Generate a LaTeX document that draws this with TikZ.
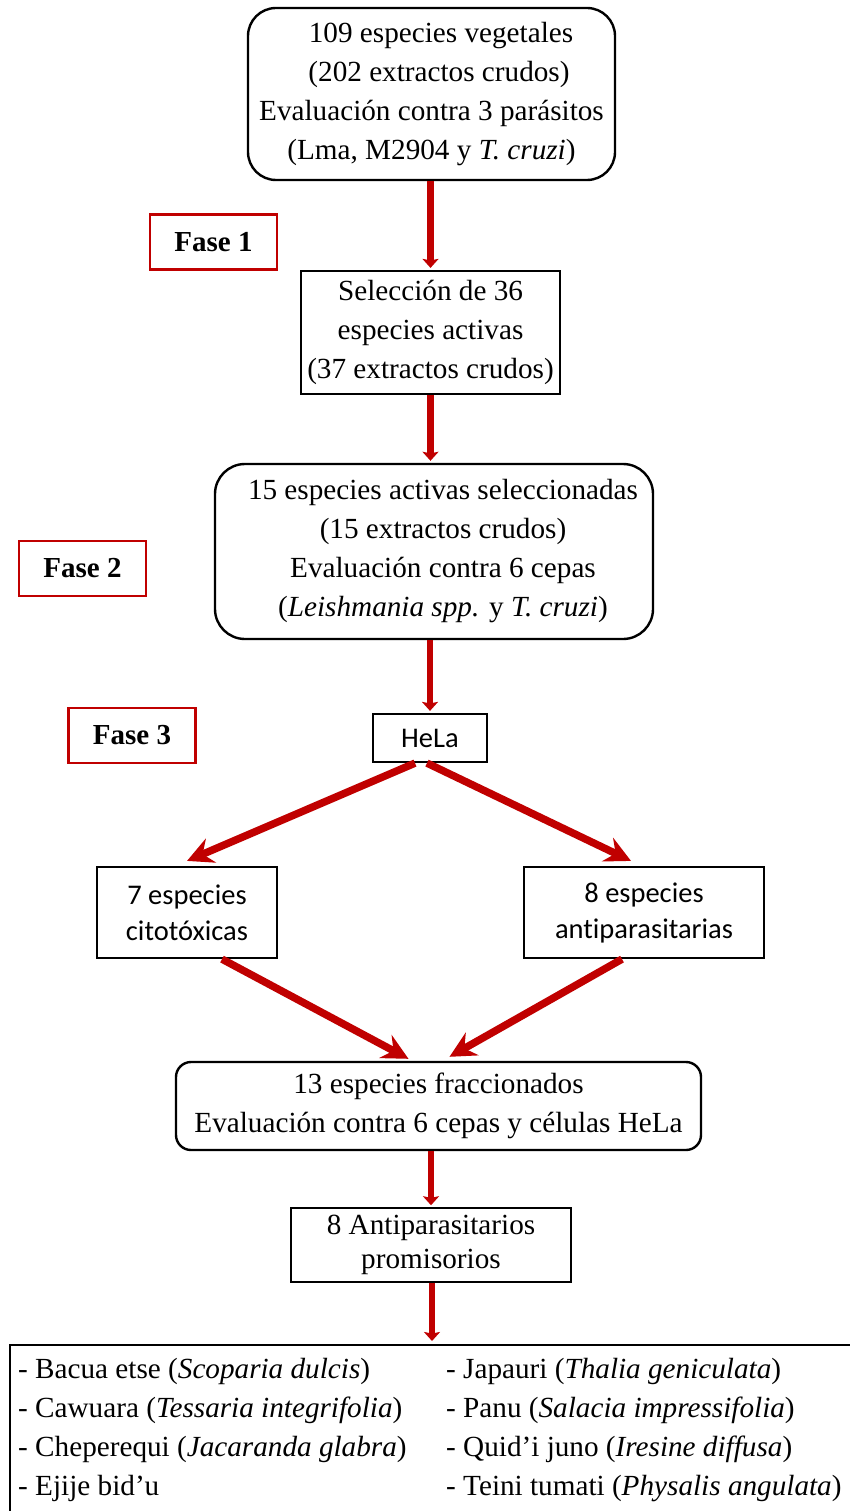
\documentclass[tikz,border=0pt]{standalone}
\usepackage{fontspec}
\setmainfont{Liberation Serif}
\newfontfamily\calibri[Ligatures=NoCommon]{Carlito}
\usetikzlibrary{arrows.meta,calc}
\definecolor{darkred}{HTML}{C00000}

\begin{document}
\begin{tikzpicture}[x=1pt,y=-1pt,
  txt/.style={font=\fontsize{29.2}{39}\selectfont, align=center, inner sep=0pt},
  roundbox/.style={txt, draw, line width=2.4pt, rounded corners=#1},
  squarebox/.style={txt, draw, line width=2.2pt},
  phase/.style={draw=darkred, line width=2.2pt, inner sep=0pt,
    font=\fontsize{29}{35}\selectfont\bfseries, minimum width=127pt, minimum height=55pt},
  cellbox/.style={draw, line width=2.2pt, align=center, inner sep=0pt,
    font=\calibri\fontsize{28.5}{36}\selectfont},
  flow/.style={draw=darkred, line width=6.8pt, -{Stealth[length=9pt,width=16pt,inset=1.5pt]}},
  split/.style={draw=darkred, line width=7.5pt, -{Stealth[length=26pt,width=26pt,inset=9pt]}},
]
\useasboundingbox (0,0) rectangle (849,1511);

% Boxes of the screening workflow
\node[roundbox=28pt, minimum width=367pt, minimum height=172pt] (pool) at (431.5,94)
  {\hspace*{19pt}109 especies vegetales\\
   \hspace*{15pt}(202 extractos crudos)\\
   Evaluación contra 3 parásitos\\
   (Lma, M2904 y \textit{T. cruzi})};
\node[phase] (f1) at (213.5,242) {Fase 1};
\node[squarebox, minimum width=259pt, minimum height=123pt] (sel) at (430.5,332.5)
  {Selección de 36\\especies activas\\(37 extractos crudos)};
\node[roundbox=30pt, minimum width=438pt, minimum height=175pt] (act) at (434,551.5)
  {\hspace*{18pt}15 especies activas seleccionadas\\
   \hspace*{18pt}(15 extractos crudos)\\
   \hspace*{18pt}Evaluación contra 6 cepas\\
   \hspace*{18pt}(\textit{Leishmania spp.} y \textit{T. cruzi})};
\node[phase] (f2) at (82.5,568.5) {Fase 2};
\node[phase] (f3) at (132,735.5) {Fase 3};
\node[cellbox, minimum width=114pt, minimum height=48pt] (hela) at (430,738) {HeLa};
\node[cellbox, minimum width=180pt, minimum height=91pt] (cito) at (187,912.5)
  {7 especies\\citotóxicas};
\node[cellbox, minimum width=240pt, minimum height=91pt] (anti) at (644,912.5)
  {8 especies\\antiparasitarias};
\node[roundbox=15pt, minimum width=525pt, minimum height=88pt] (frac) at (438.5,1106)
  {13 especies fraccionados\\Evaluación contra 6 cepas y células HeLa};
\node[squarebox, line width=1.5pt, minimum width=280pt, minimum height=74pt,
  font=\fontsize{29.2}{34}\selectfont] (prom) at (431,1245)
  {8 Antiparasitarios\\promisorios};

% Final list of promising species (box runs past the right and bottom edges)
\node[anchor=north west, inner xsep=8pt, inner ysep=6pt,
  font=\fontsize{29.2}{39}\selectfont] (lista) at (10,1345)
  {\begin{tabular}{@{}p{428pt}@{}l@{}}
   - Bacua etse (\textit{Scoparia dulcis}) & - Japauri (\textit{Thalia geniculata})\\
   - Cawuara (\textit{Tessaria integrifolia}) & - Panu (\textit{Salacia impressifolia})\\
   - Cheperequi (\textit{Jacaranda glabra}) & - Quid’i juno (\textit{Iresine diffusa})\\
   - Ejije bid’u & - Teini tumati (\textit{Physalis angulata})
   \end{tabular}};
\draw[line width=1.5pt] ([yshift=-30pt]lista.south west) |- ([xshift=40pt]lista.north east);

% Connectors
\path[flow] (sel.north |- pool.south) -- ([yshift=2pt]sel.north);
\path[flow] (sel.south) -- ([yshift=2pt]sel.south |- act.north);
\path[flow] (hela.north |- act.south) -- ([yshift=2pt]hela.north);
\path[split] ([xshift=-15pt]hela.south) -- ([yshift=5pt]cito.north);
\path[split] ([xshift=-3pt]hela.south) -- ([xshift=-13pt,yshift=5pt]anti.north);
\path[split] ([xshift=35pt]cito.south) -- ([xshift=-30pt,yshift=2pt]frac.north);
\path[split] ([xshift=-22pt]anti.south) -- ([xshift=11pt,yshift=4pt]frac.north);
\path[flow] (prom.north |- frac.south) -- ([yshift=2pt]prom.north);
\path[flow] ([xshift=1pt]prom.south) -- ([xshift=1pt,yshift=4pt]prom.south |- lista.north);
\end{tikzpicture}
\end{document}
